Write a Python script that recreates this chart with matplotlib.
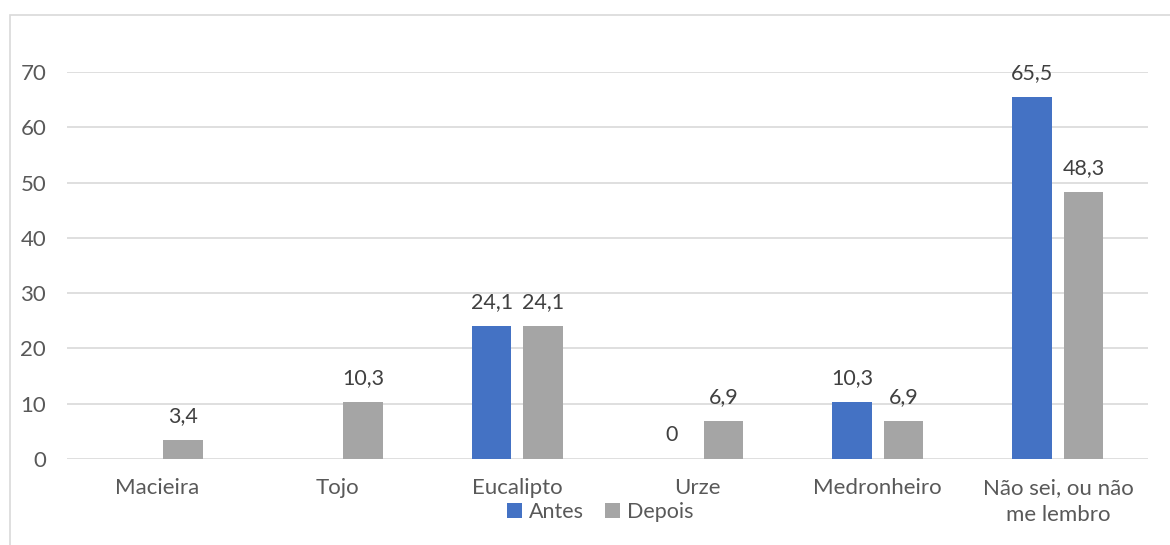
import numpy as np
import matplotlib
matplotlib.use('Agg')
import matplotlib.pyplot as plt
from matplotlib.patches import Rectangle

categorias = ['Macieira', 'Tojo', 'Eucalipto', 'Urze', 'Medronheiro', 'Não sei, ou não\nme lembro']
antes = [np.nan, np.nan, 24.1, 0, 10.3, 65.5]
depois = [3.4, 10.3, 24.1, 6.9, 6.9, 48.3]
yticks = [0, 10, 20, 30, 40, 50, 60, 70]

AZUL, CINZA = '#4472C4', '#A5A5A5'
TXT, GRID = '#595959', '#D9D9D9'
FS = 16
plt.rcParams['font.family'] = ['Lato', 'DejaVu Sans']

fig = plt.figure(figsize=(11.7, 5.45), dpi=100)
# moldura do gráfico (recortada à direita e em baixo)
fig.patches.append(Rectangle((10/1170, -0.1), 1.2, 1 - 15/545 + 0.1, transform=fig.transFigure,
                             fill=False, edgecolor=GRID, lw=1.2))

ax = fig.add_axes([67/1170, 1 - 459/545, (1148 - 67)/1170, (459 - 72)/545])
x = np.arange(len(categorias))
w, off = 0.22, 0.143
b1 = ax.bar(x - off, antes, w, color=AZUL, label='Antes', zorder=3)
b2 = ax.bar(x + off, depois, w, color=CINZA, label='Depois', zorder=3)

for bars, vals in ((b1, antes), (b2, depois)):
    for r, v in zip(bars, vals):
        if np.isnan(v):
            continue
        ax.annotate(f'{v:g}'.replace('.', ','), (r.get_x() + r.get_width()/2, v),
                    xytext=(0, 10), textcoords='offset points', ha='center', va='bottom',
                    fontsize=FS - 0.5, color='#404040', clip_on=False)

ax.set_xlim(-0.5, len(categorias) - 0.5)
ax.set_ylim(0, 70)
ax.set_yticks(yticks)
ax.set_xticks(x)
ax.set_xticklabels(categorias, linespacing=1.4)
ax.yaxis.grid(True, color=GRID, lw=1.2, zorder=0)
for s in ax.spines.values():
    s.set_visible(False)
ax.tick_params(length=0, labelsize=FS, colors=TXT)
ax.tick_params(axis='y', pad=15)
ax.tick_params(axis='x', pad=14)

fig.legend(loc='center', bbox_to_anchor=(600/1170, 1 - 512/545), ncol=2, frameon=False,
           fontsize=FS - 0.5, labelcolor=TXT, handlelength=0.7, handleheight=0.7,
           handletextpad=0.3, columnspacing=1.0)

fig.savefig('out.png', dpi=100)
